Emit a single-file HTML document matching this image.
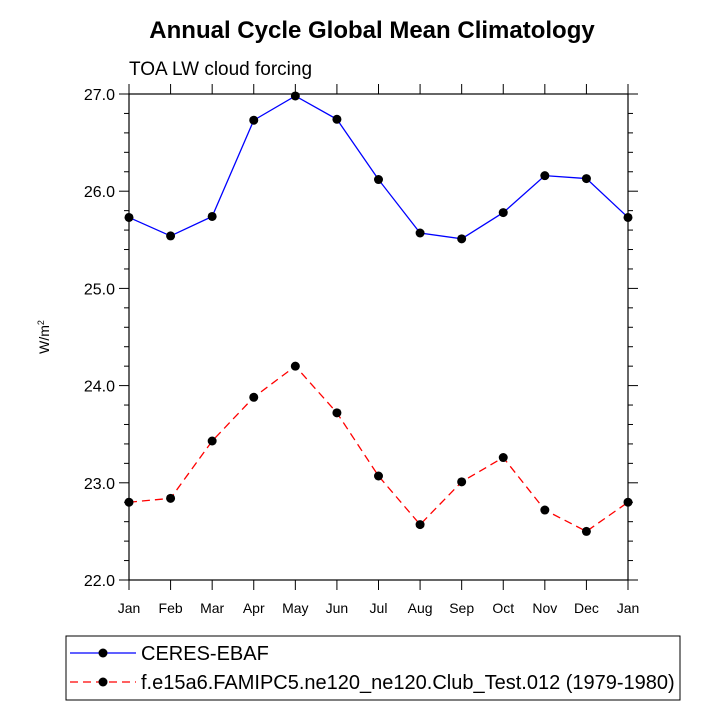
<!DOCTYPE html>
<html><head><meta charset="utf-8"><style>
body{margin:0;background:#fff;font-family:"Liberation Sans",sans-serif}
</style></head><body>
<svg id="c" width="720" height="720" xmlns="http://www.w3.org/2000/svg">
<text x="372" y="38" text-anchor="middle" font-size="24" font-weight="bold">Annual Cycle Global Mean Climatology</text>
<text x="129" y="75" font-size="19">TOA LW cloud forcing</text>
<text transform="translate(49,337) rotate(-90)" text-anchor="middle" font-size="14">W/m<tspan dy="-5" font-size="9">2</tspan></text>
<g id="axes"></g>
<g id="series"></g>
<rect x="66" y="636" width="614" height="64" fill="none" stroke="#000"/>
<g>
<line x1="70" y1="653" x2="136" y2="653" stroke="#00f" stroke-width="1.3"/>
<circle cx="103" cy="653" r="4.5"/>
<text x="141" y="660" font-size="20">CERES-EBAF</text></g>
<g>
<line x1="70" y1="682" x2="136" y2="682" stroke="#f00" stroke-width="1.3" stroke-dasharray="8,5"/>
<circle cx="103" cy="682" r="4.5"/>
<text x="141" y="689" font-size="20">f.e15a6.FAMIPC5.ne120_ne120.Club_Test.012 (1979-1980)</text></g>
</svg>
<script>
const months=["Jan","Feb","Mar","Apr","May","Jun","Jul","Aug","Sep","Oct","Nov","Dec","Jan"];
const ceres=[25.73,25.54,25.74,26.73,26.98,26.74,26.12,25.57,25.51,25.78,26.16,26.13,25.73];
const model=[22.80,22.84,23.43,23.88,24.20,23.72,23.07,22.57,23.01,23.26,22.72,22.50,22.80];
const yTicks=[22,23,24,25,26,27];
const NS="http://www.w3.org/2000/svg";
const L=129,R=628,T=94,B=580,ymin=22,ymax=27;
const xs=i=>L+(R-L)*i/(months.length-1);
const ys=v=>B-(v-ymin)/(ymax-ymin)*(B-T);
function mk(t,a,p){const e=document.createElementNS(NS,t);for(const k in a)e.setAttribute(k,a[k]);p.appendChild(e);return e;}
const ax=document.getElementById('axes');
const frame=mk('rect',{x:L,y:T,width:R-L,height:B-T,fill:'none',stroke:'#000','stroke-width':1.2},ax);


for(let v=ymin;v<=ymax+1e-9;v+=0.2){
  const y=ys(v),maj=Math.abs(v-Math.round(v))<1e-6,len=maj?10:5;
  mk('line',{x1:L-len,y1:y,x2:L,y2:y,stroke:'#000'},ax);
  mk('line',{x1:R,y1:y,x2:R+len,y2:y,stroke:'#000'},ax);
}
yTicks.forEach(v=>{const t=mk('text',{x:L-14,y:ys(v)+6,'text-anchor':'end','font-size':16},ax);t.textContent=v.toFixed(1);

});
months.forEach((m,i)=>{const x=xs(i);
  mk('line',{x1:x,y1:B,x2:x,y2:B+10,stroke:'#000'},ax);
  mk('line',{x1:x,y1:T-10,x2:x,y2:T,stroke:'#000'},ax);
  const t=mk('text',{x:x,y:B+33,'text-anchor':'middle','font-size':14},ax);t.textContent=m;
  
  });
const sg=document.getElementById('series');
function draw(vals,col,dash,name){
  const g=mk('g',{},sg);
  
  
  mk('polyline',{points:vals.map((v,i)=>xs(i)+','+ys(v)).join(' '),fill:'none',stroke:col,'stroke-width':1.3,'stroke-dasharray':dash},g);
  vals.forEach((v,i)=>{const c=mk('circle',{cx:xs(i),cy:ys(v),r:4.5},g);
    
    });
}
draw(ceres,'#00f','none','series-ceres');
draw(model,'#f00','8,5','series-model');
</script>
</body></html>
